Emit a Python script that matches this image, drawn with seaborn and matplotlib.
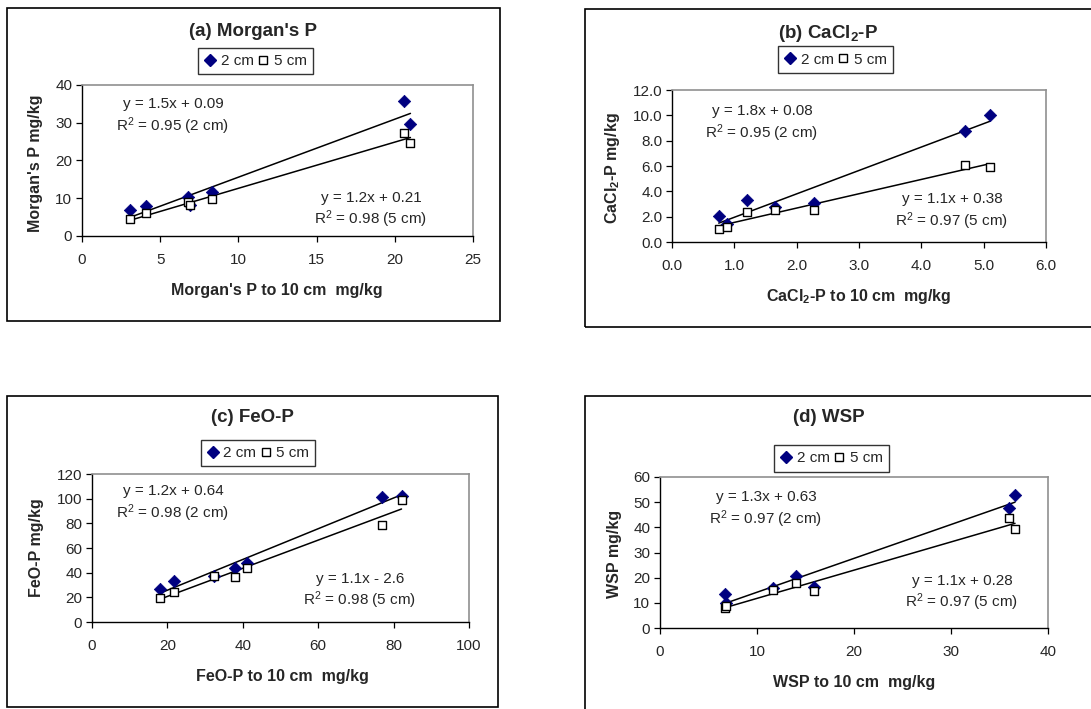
import numpy as np
import pandas as pd
import seaborn as sns
import matplotlib.pyplot as plt
from matplotlib.lines import Line2D
from matplotlib.patches import Rectangle

# data (x = value to 10 cm, y = value at 2 cm / 5 cm)
morgan_10 = [3.1, 4.1, 6.8, 6.9, 8.3, 20.6, 21.0]
morgan_2 = [7.0, 7.9, 10.2, 8.2, 11.6, 35.8, 29.6]
morgan_5 = [4.4, 6.0, 9.0, 8.2, 9.8, 27.4, 24.6]

cacl_10 = [0.75, 0.88, 1.2, 1.66, 2.28, 4.7, 5.1]
cacl_2 = [2.08, 1.42, 3.3, 2.74, 3.05, 8.76, 10.0]
cacl_5 = [1.05, 1.16, 2.37, 2.53, 2.55, 6.08, 5.92]

feo_10 = [18.0, 21.7, 32.3, 37.9, 41.0, 76.8, 82.1]
feo_2 = [26.5, 33.2, 37.3, 44.0, 47.6, 101.0, 102.5]
feo_5 = [19.5, 24.0, 37.0, 36.8, 44.0, 79.0, 98.7]

wsp_10 = [6.7, 6.8, 11.7, 14.0, 15.9, 36.0, 36.6]
wsp_2 = [13.4, 10.1, 15.8, 20.7, 16.3, 47.8, 53.0]
wsp_5 = [7.8, 8.6, 15.2, 17.7, 14.7, 43.8, 39.3]

titles = ["(a) Morgan's P", "(b) CaCl$_2$-P", "(c) FeO-P", "(d) WSP"]
xlabels = ["Morgan's P to 10 cm  mg/kg", "CaCl$_2$-P to 10 cm  mg/kg",
           "FeO-P to 10 cm  mg/kg", "WSP to 10 cm  mg/kg"]
ylabels = ["Morgan's P mg/kg", "CaCl$_2$-P mg/kg", "FeO-P mg/kg", "WSP mg/kg"]
eq_2cm = [("y = 1.5x + 0.09", "R$^2$ = 0.95 (2 cm)"), ("y = 1.8x + 0.08", "R$^2$ = 0.95 (2 cm)"),
          ("y = 1.2x + 0.64", "R$^2$ = 0.98 (2 cm)"), ("y = 1.3x + 0.63", "R$^2$ = 0.97 (2 cm)")]
eq_5cm = [("y = 1.2x + 0.21", "R$^2$ = 0.98 (5 cm)"), ("y = 1.1x + 0.38", "R$^2$ = 0.97 (5 cm)"),
          ("y = 1.1x - 2.6", "R$^2$ = 0.98 (5 cm)"), ("y = 1.1x + 0.28", "R$^2$ = 0.97 (5 cm)")]
xlims = [(0, 25), (0, 6), (0, 100), (0, 40)]
ylims = [(0, 40), (0, 12), (0, 120), (0, 60)]
xticks = [np.arange(0, 26, 5), np.arange(0, 6.1, 1), np.arange(0, 101, 20), np.arange(0, 41, 10)]
yticks = [np.arange(0, 41, 10), np.arange(0, 12.1, 2), np.arange(0, 121, 20), np.arange(0, 61, 10)]
fmt = ["{:.0f}", "{:.1f}", "{:.0f}", "{:.0f}"]

xs = [morgan_10, cacl_10, feo_10, wsp_10]
y2s = [morgan_2, cacl_2, feo_2, wsp_2]
y5s = [morgan_5, cacl_5, feo_5, wsp_5]

sns.set_style("white")
plt.rcParams['font.family'] = ['Liberation Sans', 'DejaVu Sans']
plt.rcParams['mathtext.fontset'] = 'custom'
plt.rcParams['mathtext.rm'] = 'Liberation Sans'
plt.rcParams['mathtext.bf'] = 'Liberation Sans:bold'
plt.rcParams['mathtext.default'] = 'regular'

W, H = 1091, 709
fig = plt.figure(figsize=(W / 100, H / 100), dpi=100)
fig.patch.set_facecolor('white')

def fx(x):
    return x / W

def fy(y):
    return 1 - y / H

# layout in pixels
axes_px = [(82, 85, 473, 236), (672, 90, 1046, 242), (92, 474, 469, 622), (660, 477, 1048, 628)]
frame_px = [(7, 8, 500, 321), (585, 9, 1100, 327), (7, 396, 498, 707), (585, 396, 1100, 720)]
title_px = [(253, 31), (828, 33), (252, 418), (829, 418)]
legend_px = [(255.5, 61), (835.5, 59.5), (258, 453), (831.5, 458.5)]
xlabel_px = [(277, 290), (859, 297), (282, 677), (854, 682)]
ylabel_px = [(36, 163), (613, 168), (36, 548), (614, 554)]
eq2_px = [(173, 104, 126), (762, 111, 133), (173, 491, 513), (766, 497, 519)]
eq5_px = [(371, 198, 219), (952, 199, 221), (360, 579, 600), (962, 581, 602)]

navy = '#000080'

for i in range(4):
    x0, y0, x1, y1 = frame_px[i]
    fig.patches.append(Rectangle((fx(x0), fy(y1)), fx(x1 - x0), (y1 - y0) / H,
                                 transform=fig.transFigure, fill=False,
                                 edgecolor='black', linewidth=1.2, zorder=0))

    l, t, r, b = axes_px[i]
    ax = fig.add_axes([fx(l), fy(b), fx(r - l), (b - t) / H])
    df = pd.DataFrame({'x': xs[i], 'y2': y2s[i], 'y5': y5s[i]})

    sns.regplot(data=df, x='x', y='y2', ax=ax, ci=None, scatter=False, truncate=True,
                line_kws={'color': 'black', 'lw': 1.1})
    sns.regplot(data=df, x='x', y='y5', ax=ax, ci=None, scatter=False, truncate=True,
                line_kws={'color': 'black', 'lw': 1.1})
    sns.scatterplot(data=df, x='x', y='y2', ax=ax, marker='D', color=navy,
                    s=40, edgecolor=navy, linewidth=0.5, zorder=3)
    sns.scatterplot(data=df, x='x', y='y5', ax=ax, marker='s', facecolor='white',
                    edgecolor='black', s=33, linewidth=1.0, zorder=4)

    ax.set_xlim(*xlims[i])
    ax.set_ylim(*ylims[i])
    ax.set_xticks(xticks[i])
    ax.set_yticks(yticks[i])
    ax.set_xticklabels([fmt[i].format(v) for v in xticks[i]], fontsize=11)
    ax.set_yticklabels([fmt[i].format(v) for v in yticks[i]], fontsize=11)
    ax.tick_params(direction='out', length=4, width=0.9, color='black', pad=8,
                   bottom=True, left=True)
    ax.tick_params(axis='y', pad=3)
    for s in ['left', 'bottom']:
        ax.spines[s].set_color('black')
        ax.spines[s].set_linewidth(1.0)
    for s in ['top', 'right']:
        ax.spines[s].set_color('#909090')
        ax.spines[s].set_linewidth(1.2)

    ax.set_xlabel(xlabels[i], fontsize=11.5, fontweight='bold', va='center')
    ax.xaxis.set_label_coords(fx(xlabel_px[i][0]), fy(xlabel_px[i][1]), transform=fig.transFigure)
    ax.set_ylabel(ylabels[i], fontsize=11.5, fontweight='bold', va='center')
    ax.yaxis.set_label_coords(fx(ylabel_px[i][0]), fy(ylabel_px[i][1]), transform=fig.transFigure)

    fig.text(fx(title_px[i][0]), fy(title_px[i][1]), titles[i], fontsize=13.5,
             fontweight='bold', ha='center', va='center')

    cx, ya, yb = eq2_px[i]
    fig.text(fx(cx), fy(ya), eq_2cm[i][0], fontsize=11, ha='center', va='center')
    fig.text(fx(cx), fy(yb), eq_2cm[i][1], fontsize=11, ha='center', va='center')
    cx, ya, yb = eq5_px[i]
    fig.text(fx(cx), fy(ya), eq_5cm[i][0], fontsize=11, ha='center', va='center')
    fig.text(fx(cx), fy(yb), eq_5cm[i][1], fontsize=11, ha='center', va='center')

    handles = [Line2D([], [], ls='none', marker='D', color=navy, markersize=6),
               Line2D([], [], ls='none', marker='s', markerfacecolor='white',
                      markeredgecolor='black', markersize=6)]
    leg = fig.legend(handles, ['2 cm', '5 cm'], loc='center', ncol=2,
                     bbox_to_anchor=(fx(legend_px[i][0]), fy(legend_px[i][1])),
                     frameon=True, fancybox=False, fontsize=11, handlelength=0.8,
                     handletextpad=0.3, columnspacing=0.2, borderpad=0.4,
                     borderaxespad=0)
    leg.get_frame().set_edgecolor('black')
    leg.get_frame().set_linewidth(1.0)

fig.savefig('out.png', dpi=100)
